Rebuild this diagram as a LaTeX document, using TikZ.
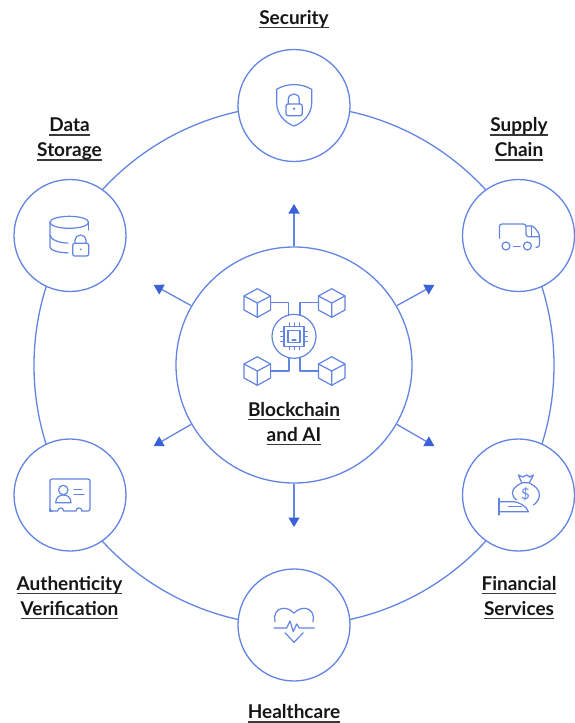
\documentclass[tikz,border=0pt]{standalone}
\usepackage{fontspec}
\setmainfont{Lato}
\usetikzlibrary{arrows.meta}
\definecolor{lineblue}{HTML}{6285E3}
\definecolor{headblue}{HTML}{3A62D6}
\definecolor{inkblack}{HTML}{161616}
\newcommand{\ult}[1]{\leavevmode\setbox0\hbox{#1}\dp0=0pt\rlap{\color{inkblack!85}\rule[-4pt]{\wd0}{1.4pt}}\box0}
\tikzset{
  ring/.style={circle,draw=lineblue,line width=1.3pt,minimum size=520pt,inner sep=0pt},
  sat/.style={circle,draw=lineblue,line width=1.3pt,fill=white,minimum size=112pt,inner sep=0pt},
  hub/.style={circle,draw=lineblue,line width=1.3pt,fill=white,minimum size=236pt,inner sep=0pt},
  lab/.style={align=center,inner sep=0pt,anchor=south,text=inkblack,font=\fontsize{19}{25}\selectfont\bfseries},
  spoke/.style={draw=lineblue,line width=1.3pt,-{Triangle[length=9.5pt,width=11pt,color=headblue]}},
  ico/.style={draw=lineblue,line width=1.2pt,line cap=round,line join=round,fill=none},
  pics/cube/.style={code={
    \draw[ico] (0,-14.3) -- (13.3,-7) -- (13.3,7) -- (0,14.3) -- (-13.3,7) -- (-13.3,-7) -- cycle;
    \draw[ico] (-13.3,-7) -- (0,0) -- (13.3,-7) (0,0) -- (0,14.3);
  }}
}
\begin{document}
\begin{tikzpicture}[x=1pt,y=-1pt]
\useasboundingbox (0,0) rectangle (575,723);
\node[ring] (ringc) at (294,365.5) {};
\node[sat] (security) at (294,105.5) {};
\node[sat] (storage) at (70,235.5) {};
\node[sat] (supply) at (518.5,235.5) {};
\node[sat] (financial) at (518.5,495) {};
\node[sat] (authentic) at (70,495) {};
\node[sat] (health) at (294,625) {};
\node[hub] (hubc) at (294,365) {};
% arrow ends
\coordinate (endN) at (294,204);
\coordinate (endS) at (294,527);
\coordinate (endNE) at (434.3,285);
\coordinate (endNW) at (153.7,285);
\coordinate (endSE) at (434.3,446);
\coordinate (endSW) at (153.7,446);
\draw[spoke] (hubc.90) -- (endN);
\draw[spoke] (hubc.270) -- (endS);
\draw[spoke] (hubc.30) -- (endNE);
\draw[spoke] (hubc.150) -- (endNW);
\draw[spoke] (hubc.-30) -- (endSE);
\draw[spoke] (hubc.210) -- (endSW);
% labels
\node[lab] (lsec) at (294,28.2) {\ult{Security}};
\node[lab] (lsto) at (69.5,161) {\ult{Data}\\\ult{Storage}};
\node[lab] (lsup) at (519,161) {\ult{Supply}\\\ult{Chain}};
\node[lab] (lfin) at (519,619.2) {\ult{Financial}\\\ult{Services}};
\node[lab] (laut) at (69.5,619.2) {\ult{Authenticity}\\\ult{Verification}};
\node[lab] (lhea) at (294,723) {\ult{Healthcare}};
\node[lab] (lhub) at (294,445.5) {\ult{Blockchain}\\\ult{and AI}};
% central icon
\pic at (257.3,303) {cube};
\pic at (331.7,303) {cube};
\pic at (257.3,371) {cube};
\pic at (331.7,371) {cube};
\begin{scope}[shift={(294,336.3)}]
  \draw[ico] (0,0) circle (22);
  \draw[ico] (-10,-10) rectangle (10,10);
  \draw[ico] (-6,-6) rectangle (6,6);
  \draw[ico] (-2,3.7) -- (2,3.7);
  \foreach \p in {-5,0,5}{
    \draw[ico,line width=.8pt] (\p,-10) -- (\p,-13.5) (\p,10) -- (\p,13.5) (-10,\p) -- (-13.5,\p) (10,\p) -- (13.5,\p);
  }
\end{scope}
\draw[ico] (270.6,302.5) -- (288.5,302.5) -- (288.5,315.5);
\draw[ico] (318.4,302.5) -- (300,302.5) -- (300,315.5);
\draw[ico] (270.6,371) -- (289,371) -- (289,357.5);
\draw[ico] (318.4,371) -- (300,371) -- (300,357.5);
% security icon
\begin{scope}[shift={(294,106)}]
  \draw[ico] (-17.3,-16.7) .. controls (-7,-23) and (7,-23) .. (17.7,-16.7) -- (17.7,-3) .. controls (17.7,8) and (9,17) .. (0,20) .. controls (-9,17) and (-17.3,8) .. (-17.3,-3) -- cycle;
  \draw[ico,rounded corners=2pt] (-8,-2) rectangle (8.3,9.7);
  \draw[ico] (-5.7,-2) -- (-5.7,-6.5) .. controls (-5.7,-10) and (-3,-12) .. (0,-12) .. controls (3,-12) and (5.3,-10) .. (5.3,-6.5) -- (5.3,-2);
  \fill[lineblue] (0,2.7) circle (1.3);
\end{scope}
% storage icon
\begin{scope}[shift={(70,235)}]
  \draw[ico] (-0.7,-12.7) ellipse (19.3 and 6);
  \draw[ico] (-20,-12.7) -- (-20,12) .. controls (-20,15) and (-12,18) .. (-2,17.7);
  \draw[ico] (-20,0) .. controls (-20,4) and (-12,8) .. (-2,8);
  \draw[ico] (18.6,-12.7) -- (18.6,-5);
  \draw[ico,rounded corners=2pt] (2.7,8.3) rectangle (18.7,21);
  \draw[ico] (5,8.3) -- (5,5) .. controls (5,2) and (7.5,0) .. (10.5,0) .. controls (13.5,0) and (16,2) .. (16,5) -- (16,8.3);
  \fill[lineblue] (10.7,14.3) circle (1);
\end{scope}
% truck icon
\begin{scope}[shift={(518.7,235)}]
  \draw[ico,rounded corners=2.5pt] (-19.3,3.3) -- (-19.3,-11) -- (7.3,-11) -- (7.3,1.7) -- (20.7,1.7);
  \draw[ico,rounded corners=2.5pt] (7.3,-9) -- (14.7,-9) -- (20.7,-1) -- (20.7,12.3) -- (17.3,12.3);
  \draw[ico] (13,-9) -- (13,1.7);
  \draw[ico] (-12.7,11) circle (4);
  \draw[ico] (8.7,11) circle (4);
  \draw[ico] (-5.3,11.7) -- (1.3,11.7);
\end{scope}
% financial icon
\begin{scope}[shift={(518.7,495)}]
  \draw[ico] (3,-12.3) -- (-0.3,-20) -- (4,-18) -- (8,-20) -- (11,-18) -- (14.7,-20) -- (10.7,-12.3) -- cycle;
  \draw[ico] (3,-12) .. controls (-3,-9) and (-6.3,-6) .. (-6.3,-2) .. controls (-6.3,0) and (-5,3) .. (-2,5);
  \draw[ico] (10.7,-12) .. controls (17,-9) and (20.7,-5) .. (20.7,0) .. controls (20.7,4) and (18,8) .. (14.7,10);
  \node[text=lineblue,inner sep=0pt,font=\fontsize{15}{15}\selectfont] (dollar) at (6.7,-0.7) {\$};
  \draw[ico] (-19.7,3.3) -- (-19.7,20);
  \draw[ico] (-19.7,6.7) -- (-5,6.7) .. controls (0,7) and (8,11) .. (9.7,16.7) -- (-19.7,16.7);
  \draw[ico] (-10.3,11.7) -- (3,11.7);
\end{scope}
% authenticity icon
\begin{scope}[shift={(70,495)}]
  \draw[ico,rounded corners=2pt] (-20,16) -- (-20,-16) -- (20,-16) -- (20,16) -- (12,16);
  \draw[ico] (12,16) .. controls (12,12) and (6,12) .. (6,16) -- (-6.3,16) .. controls (-6.3,12) and (-12.3,12) .. (-12.3,16) -- (-18,16);
  \draw[ico] (-18,16) -- (-20,16) -- (-20,14);
  \draw[ico] (-6.7,-5) circle (4.7);
  \draw[ico] (-14.3,7.7) .. controls (-14.3,2) and (-10,0) .. (-6.7,0) .. controls (-3,0) and (1,2) .. (1,7.7) -- cycle;
  \draw[ico] (4,-5.7) -- (11.7,-5.7);
  \draw[ico] (4,-0.7) -- (14,-0.7);
\end{scope}
% healthcare icon
\begin{scope}[shift={(294,625)}]
  \draw[ico] (-19,-3.3) .. controls (-21,-10) and (-17,-16.7) .. (-11,-16.7) .. controls (-6,-16.7) and (-3,-15) .. (0,-11.7) .. controls (3,-15) and (6,-16.7) .. (11,-16.7) .. controls (17,-16.7) and (21,-10) .. (19,-3.3);
  \draw[ico] (-20,3) -- (-7.3,3) -- (-4,-4) -- (-0.7,6.7) -- (2.7,-1) -- (5.3,3) -- (20.3,3);
  \draw[ico] (-9,7.7) -- (0,17.3) -- (9.3,7.7);
\end{scope}
\end{tikzpicture}
\end{document}
